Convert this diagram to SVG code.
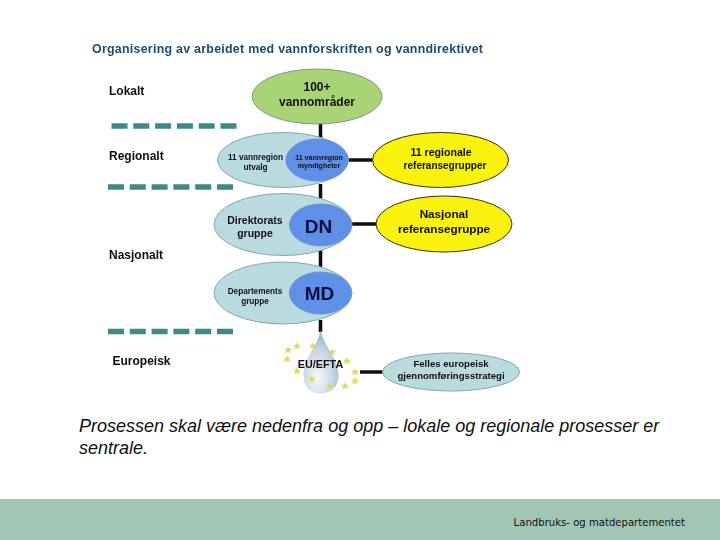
<svg xmlns="http://www.w3.org/2000/svg" width="720" height="540" viewBox="0 0 720 540">
<defs>
<radialGradient id="drop" cx="0.4" cy="0.75" r="0.8"><stop offset="0" stop-color="#f4f8fb"/><stop offset="0.55" stop-color="#c5d6e4"/><stop offset="1" stop-color="#8fa9bd"/></radialGradient>
<g id="star"><path d="M0-4 1.100-1.200 4.300-1.200 1.800.6 2.700 3.600 0 1.800-2.700 3.600-1.800.6-4.300-1.200-1.100-1.200Z" fill="#e3d75a"/></g>
<filter id="soft" x="0" y="0" width="100%" height="100%"><feGaussianBlur stdDeviation="0.35"/></filter>
</defs>
<style>
text{font-family:"Liberation Sans",Arial,sans-serif;fill:#111;font-weight:700;text-anchor:middle}
.lvl{font-size:12px;text-anchor:start}
.c{stroke:#0a0a0a;stroke-width:3.500;fill:none}
.d{fill:none;stroke:#3c8a8a;stroke-width:5.500;stroke-dasharray:16 5.800}
.pale{fill:#b9dbe0;stroke:#7fa9ad;stroke-width:1}
.blue{fill:#5f8fe6;stroke:#6d93d8;stroke-width:1}
.yel{fill:#f9f20f;stroke:#33330a;stroke-width:1}
.big{font-size:19px;fill:#071040}
</style>
<rect width="720" height="540" fill="#fff"/>
<rect y="499" width="720" height="41" fill="#a2c6b4"/>
<g id="diagram" filter="url(#soft)">
<text x="92" y="53" textLength="391" lengthAdjust="spacing" style="font-size:12.400px;fill:#1d4a72;text-anchor:start">Organisering av arbeidet med vannforskriften og vanndirektivet</text>
<g id="connectors">
<path class="c" d="M320.500 122V168M320.500 184V208M320.500 250V270M320.500 320V332M347 160H375M351 224H378M360 372H383"/>
</g>
<g id="dashes"><path class="d" d="M111.500 126H237"/><path class="d" d="M108 187H234"/><path class="d" d="M108 331.500H234"/></g>
<g id="levels">
<text class="lvl" x="109" y="95">Lokalt</text>
<text class="lvl" x="109" y="160">Regionalt</text>
<text class="lvl" x="109" y="259">Nasjonalt</text>
<text class="lvl" x="112.500" y="365">Europeisk</text>
</g>
<g id="n-vannomrader"><ellipse cx="317" cy="96.500" rx="65" ry="27.500" fill="#a9d377" stroke="#7b9c7b"/><text style="font-size:12px" x="317" y="91">100+</text><text style="font-size:12px" x="317" y="106">vannområder</text></g>
<g id="n-utvalg"><ellipse cx="283" cy="160" rx="65.500" ry="27.500" class="pale"/><text style="font-size:8.200px" x="255.500" y="160">11 vannregion</text><text style="font-size:8.200px" x="255.500" y="170">utvalg</text></g>
<g id="n-myndigheter"><ellipse cx="317" cy="160" rx="31" ry="21" class="blue"/><text style="font-size:7.100px" x="319" y="160">11 vannregion</text><text style="font-size:7.100px" x="319" y="168">myndigheter</text></g>
<g id="n-regref"><ellipse cx="440.500" cy="160" rx="68" ry="27.500" class="yel"/><text style="font-size:10.600px" x="441" y="156">11 regionale</text><text style="font-size:10px" x="445" y="169">referansegrupper</text></g>
<g id="n-dir"><ellipse cx="283" cy="224.500" rx="69" ry="31" class="pale"/><text style="font-size:10.500px" x="255" y="224">Direktorats</text><text style="font-size:10.500px" x="255" y="237">gruppe</text></g>
<g id="n-dn"><ellipse cx="320.500" cy="225" rx="31" ry="21" class="blue"/><text class="big" x="318.500" y="232.500">DN</text></g>
<g id="n-nasref"><ellipse cx="444" cy="224" rx="68" ry="28" class="yel"/><text style="font-size:11.700px" x="444" y="218">Nasjonal</text><text style="font-size:11.700px" x="444" y="233">referansegruppe</text></g>
<g id="n-dep"><ellipse cx="283" cy="293" rx="69" ry="31" class="pale"/><text style="font-size:8.200px" x="255" y="293.500">Departements</text><text style="font-size:8.200px" x="255" y="304">gruppe</text></g>
<g id="n-md"><ellipse cx="320.500" cy="293" rx="31" ry="21" class="blue"/><text class="big" x="319.500" y="300">MD</text></g>
<g id="n-eu">
<path d="M320.500 330C323 345 338.500 358 338.500 375C338.500 387 331 393.500 320.500 393.500C310 393.500 303.500 387 303.500 375C303.500 358 318.500 345 320.500 330Z" fill="url(#drop)"/>
<use href="#star" x="288" y="350"/><use href="#star" x="297" y="346"/><use href="#star" x="313" y="346"/><use href="#star" x="332" y="352"/><use href="#star" x="287" y="359"/><use href="#star" x="297" y="371"/><use href="#star" x="347" y="361"/><use href="#star" x="355" y="372"/><use href="#star" x="355" y="381"/><use href="#star" x="345" y="386"/><use href="#star" x="312" y="379"/><use href="#star" x="330" y="386"/>
<text x="320.500" y="368" style="font-size:10.800px">EU/EFTA</text>
</g>
<g id="n-felles"><ellipse cx="451" cy="372" rx="68.500" ry="19" class="pale"/><text style="font-size:9.600px" x="451" y="367">Felles europeisk</text><text style="font-size:9.600px" x="451" y="378.500">gjennomføringsstrategi</text></g>
</g>
<text x="79" y="432" style="font-size:18px;font-style:italic;font-weight:400;text-anchor:start">Prosessen skal være nedenfra og opp – lokale og regionale prosesser er</text>
<text x="79" y="454" style="font-size:18px;font-style:italic;font-weight:400;text-anchor:start">sentrale.</text>
<text x="685" y="526" style="font-family:'DejaVu Sans',sans-serif;font-size:10.100px;font-weight:400;text-anchor:end">Landbruks- og matdepartementet</text>
</svg>
